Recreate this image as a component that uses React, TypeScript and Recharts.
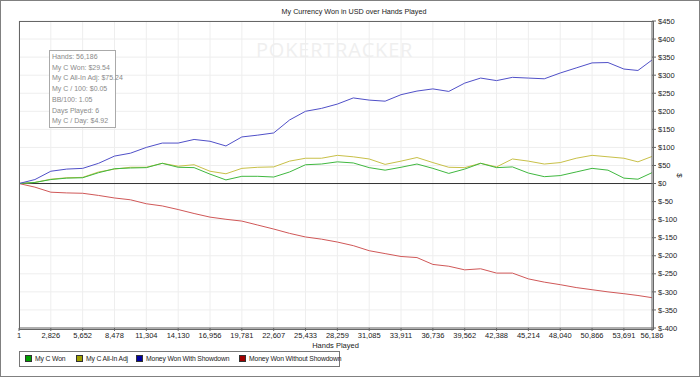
import React from 'react';
import { LineChart, Line, XAxis, YAxis, CartesianGrid, ReferenceLine } from 'recharts';

// Hands played at each sample point (x ticks plus midpoints)
const hands = [
  1, 1414, 2826, 4239, 5652, 7065, 8478, 9891, 11304, 12717, 14130, 15543, 16956, 18369,
  19781, 21194, 22607, 24020, 25433, 26846, 28259, 29672, 31085, 32498, 33911, 35324,
  36736, 38149, 39562, 40975, 42388, 43801, 45214, 46627, 48040, 49453, 50866, 52279,
  53691, 54938, 56186,
];

const myCWon = [
  0, 3, 11, 15, 16, 30, 41, 43, 44, 56, 45, 44, 26, 10, 20, 20, 18, 32, 52, 54, 60,
  57, 44, 37, 45, 54, 42, 28, 40, 56, 44, 46, 29, 19, 22, 32, 42, 37, 15, 12, 30,
];

const allInAdj = [
  0, 3, 12, 16, 17, 32, 40, 45, 45, 56, 48, 52, 34, 27, 42, 45, 46, 62, 70, 70, 78,
  74, 68, 53, 62, 72, 58, 45, 44, 56, 46, 68, 62, 54, 58, 70, 78, 74, 70, 60, 75,
];

const withShowdown = [
  0, 11, 34, 40, 42, 56, 76, 84, 100, 112, 112, 122, 117, 104, 129, 134, 140, 176, 200,
  208, 220, 237, 231, 228, 246, 256, 262, 255, 278, 292, 285, 294, 292, 290, 306, 320,
  334, 335, 317, 313, 342,
];

const withoutShowdown = [
  0, -10, -24, -26, -27, -33, -40, -45, -56, -62, -72, -83, -93, -99, -104, -115, -126,
  -138, -148, -154, -162, -172, -186, -194, -202, -205, -224, -229, -239, -236, -248,
  -248, -264, -273, -280, -288, -294, -300, -305, -310, -316,
];

const xTicks = [
  1, 2826, 5652, 8478, 11304, 14130, 16956, 19781, 22607, 25433, 28259, 31085, 33911,
  36736, 39562, 42388, 45214, 48040, 50866, 53691, 56186,
];

const yTicks = [
  -400, -350, -300, -250, -200, -150, -100, -50, 0, 50, 100, 150, 200, 250, 300, 350, 400, 450,
];

const statLines = [
  'Hands: 56,186',
  'My C Won: $29.54',
  'My C All-In Adj: $75.24',
  'My C / 100: $0.05',
  'BB/100: 1.05',
  'Days Played: 6',
  'My C / Day: $4.92',
];

const legendItems = [
  { label: 'My C Won', color: '#00a000', left: 24 },
  { label: 'My C All-In Adj', color: '#a0a000', left: 75 },
  { label: 'Money Won With Showdown', color: '#0000a0', left: 135 },
  { label: 'Money Won Without Showdown', color: '#a00000', left: 238 },
];

const data = hands.map((h, i) => ({
  hands: h,
  won: myCWon[i],
  adj: allInAdj[i],
  sd: withShowdown[i],
  nsd: withoutShowdown[i],
}));

const font = '"Liberation Sans", Arial, sans-serif';
const tickStyle = { fill: '#222', fontSize: 7.5, fontFamily: font };

const App: React.FC = () => {
  return (
    <div
      style={{
        position: 'absolute',
        left: 0,
        top: 0,
        width: 700,
        height: 377,
        boxSizing: 'border-box',
        border: '1px solid #808080',
        background: '#fff',
        fontFamily: font,
        overflow: 'hidden',
      }}
    >
      {/* watermark */}
      <div
        style={{
          position: 'absolute',
          left: 255,
          top: 35,
          fontSize: 20,
          color: '#efefef',
          letterSpacing: 0.8,
          fontFamily: '"Open Sans", sans-serif',
        }}
      >
        POKERTRACKER
      </div>

      <div style={{ position: 'absolute', left: -1, top: -1 }}>
        <LineChart
          width={700}
          height={377}
          data={data}
          margin={{ top: 21, left: 19, right: 8, bottom: 27 }}
        >
          <CartesianGrid stroke="#eeeeee" />
          <XAxis
            dataKey="hands"
            type="number"
            domain={[1, 56186]}
            ticks={xTicks}
            interval={0}
            height={22}
            tick={tickStyle}
            tickSize={3}
            stroke="#666"
            tickFormatter={(v: number) => v.toLocaleString('en-US')}
            label={{
              value: 'Hands Played',
              position: 'insideBottom',
              offset: 2,
              style: { fill: '#222', fontSize: 7.5, fontFamily: font },
            }}
          />
          <YAxis
            orientation="right"
            width={40}
            domain={[-400, 450]}
            ticks={yTicks}
            interval={0}
            tick={tickStyle}
            tickSize={4}
            stroke="#666"
            tickFormatter={(v: number) => `$${v}`}
          />
          <ReferenceLine y={0} stroke="#333" />
          <Line type="linear" dataKey="nsd" stroke="#d05858" strokeWidth={1} dot={false} isAnimationActive={false} />
          <Line type="linear" dataKey="adj" stroke="#c8c048" strokeWidth={1} dot={false} isAnimationActive={false} />
          <Line type="linear" dataKey="won" stroke="#40b840" strokeWidth={1} dot={false} isAnimationActive={false} />
          <Line type="linear" dataKey="sd" stroke="#5050c8" strokeWidth={1} dot={false} isAnimationActive={false} />
        </LineChart>
      </div>

      {/* plot frame */}
      <div
        style={{
          position: 'absolute',
          left: 18,
          top: 20,
          width: 633,
          height: 307,
          border: '1px solid #666',
          pointerEvents: 'none',
        }}
      />

      {/* title */}
      <div
        style={{
          position: 'absolute',
          left: 0,
          width: 706,
          top: 6,
          textAlign: 'center',
          fontSize: 7.2,
          color: '#222',
        }}
      >
        My Currency Won in USD over Hands Played
      </div>

      {/* y axis name */}
      <div
        style={{
          position: 'absolute',
          left: 676,
          top: 170,
          fontSize: 8,
          color: '#222',
          transform: 'rotate(90deg)',
        }}
      >
        $
      </div>

      {/* stats box */}
      <div
        style={{
          position: 'absolute',
          left: 48,
          top: 49,
          width: 67,
          height: 78,
          border: '1px solid #aaa',
          background: '#fff',
          boxSizing: 'border-box',
          padding: '1px 0 0 2px',
        }}
      >
        {statLines.map((s) => (
          <div key={s} style={{ fontSize: 7, color: '#8a8a8a', lineHeight: '10.7px', whiteSpace: 'nowrap' }}>
            {s}
          </div>
        ))}
      </div>

      {/* legend */}
      <div
        style={{
          position: 'absolute',
          left: 18,
          top: 350,
          width: 321,
          height: 16,
          border: '1px solid #777',
          boxSizing: 'border-box',
        }}
      >
        {legendItems.map((it) => (
          <div
            key={it.label}
            style={{
              position: 'absolute',
              left: it.left - 19,
              top: 3,
              display: 'flex',
              alignItems: 'center',
              fontSize: 6.8,
              letterSpacing: -0.15,
              color: '#222',
              whiteSpace: 'nowrap',
            }}
          >
            <span
              style={{
                display: 'inline-block',
                width: 5,
                height: 5,
                background: it.color,
                border: '1px solid #333',
                marginRight: 3,
              }}
            />
            {it.label}
          </div>
        ))}
      </div>
    </div>
  );
};

export default App;
